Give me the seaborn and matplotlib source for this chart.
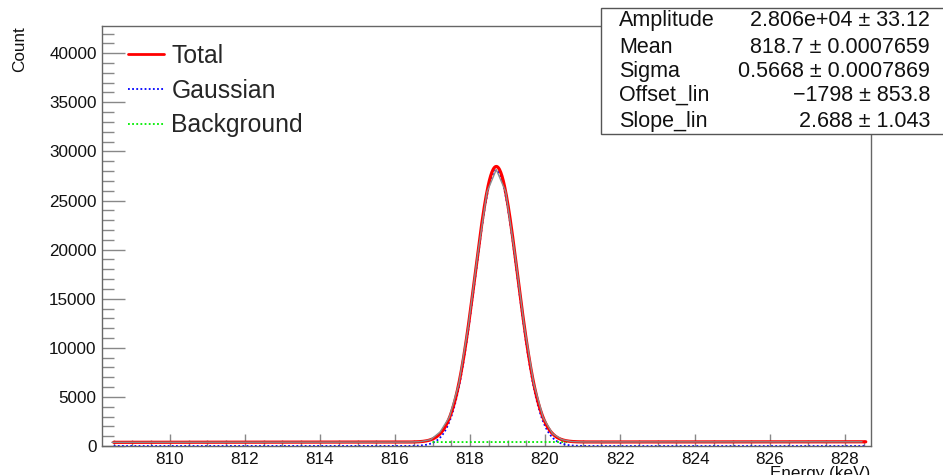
import numpy as np
import pandas as pd
import matplotlib
matplotlib.use("Agg")
import matplotlib.pyplot as plt
import seaborn as sns
from matplotlib.patches import Rectangle
from matplotlib.ticker import MultipleLocator

# fit result, as printed in the stats box
AMPLITUDE = 2.806e4
MEAN = 818.7
SIGMA = 0.5668
OFFSET_LIN = -1798
SLOPE_LIN = 2.688

PAR_NAMES = ["Amplitude", "Mean", "Sigma", "Offset_lin", "Slope_lin"]
PAR_VALUES = ["2.806e+04 \u00b1 33.12", "818.7 \u00b1 0.0007659",
              "0.5668 \u00b1 0.0007869", "\u22121798 \u00b1 853.8",
              "2.688 \u00b1 1.043"]

# histogram, 0.25 keV bins
E_FIRST = 808.45
BIN_WIDTH = 0.25
COUNTS_LEFT = [375, 376, 377, 377, 378, 379, 379, 380,
               381, 381, 382, 383, 383, 384, 385, 385,
               386, 387, 387, 388, 389, 389, 390, 391,
               391, 392, 393, 393, 394, 395, 395, 396]
COUNTS_PEAK = [407, 455, 650, 1420, 2950, 6300, 12100, 19400, 25850, 28150,
               25900, 19450, 12100, 6330, 2880, 1260, 650, 460, 415]
COUNTS_RIGHT = [410, 410, 411, 412, 412, 413, 414, 414,
                415, 416, 416, 417, 418, 418, 419, 420,
                420, 421, 422, 422, 423, 424, 424, 425,
                426, 426, 427, 428, 428, 429]

FIT_RANGE = (808.5, 828.55)
BKG_RANGE = (817.0, 820.6)
X_LIM = (808.18, 828.69)
Y_LIM = (0, 42770)

W, H = 943, 475


def fx(px):
    return px / W


def fy(py):
    return 1 - py / H


def gauss(x):
    return AMPLITUDE * np.exp(-0.5 * ((x - MEAN) / SIGMA) ** 2)


def background(x):
    return OFFSET_LIN + SLOPE_LIN * x


counts = COUNTS_LEFT + COUNTS_PEAK + COUNTS_RIGHT
hist = pd.DataFrame({"energy": E_FIRST + BIN_WIDTH * np.arange(len(counts)),
                     "count": counts})

xf = np.linspace(*FIT_RANGE, 1200)
curves = pd.DataFrame({"energy": xf,
                       "gauss": gauss(xf),
                       "total": gauss(xf) + background(xf)})
xb = np.linspace(*BKG_RANGE, 50)
bkg = pd.DataFrame({"energy": xb, "bkg": background(xb)})

sns.set_theme(style="white")
plt.rcParams["font.family"] = ["Liberation Sans", "DejaVu Sans"]

fig = plt.figure(figsize=(W / 100, H / 100), dpi=100)
ax = fig.add_axes([fx(101.7), fy(446), fx(871) - fx(101.7), fy(26) - fy(446)])

sns.lineplot(data=curves, x="energy", y="gauss", ax=ax, color="#0000ff",
             lw=1.3, linestyle=(0, (1, 1.3)), estimator=None, sort=False, zorder=2)
sns.lineplot(data=bkg, x="energy", y="bkg", ax=ax, color="#00ee00",
             lw=1.3, linestyle=(0, (1, 1.3)), estimator=None, sort=False, zorder=2)
sns.lineplot(data=curves, x="energy", y="total", ax=ax, color="#ff0000",
             lw=2.3, estimator=None, sort=False, zorder=3)
sns.lineplot(data=hist, x="energy", y="count", ax=ax, color="#8c8c8c",
             lw=1.0, estimator=None, sort=False, zorder=4)

ax.set_xlim(*X_LIM)
ax.set_ylim(*Y_LIM)
ax.set_xlabel("")
ax.set_ylabel("")
ax.xaxis.set_major_locator(MultipleLocator(2))
ax.xaxis.set_minor_locator(MultipleLocator(0.5))
ax.yaxis.set_major_locator(MultipleLocator(5000))
ax.yaxis.set_minor_locator(MultipleLocator(1000))
ax.tick_params(axis="both", which="both", direction="in", colors="#888888",
               labelcolor="#111111", labelsize=12.3, width=1,
               top=False, right=False, bottom=True, left=True)
ax.tick_params(axis="x", which="major", length=8.6, pad=4.3)
ax.tick_params(axis="x", which="minor", length=4.3)
ax.tick_params(axis="y", which="major", length=16.5, pad=3.6)
ax.tick_params(axis="y", which="minor", length=8.5)
for sp in ax.spines.values():
    sp.set_visible(True)
    sp.set_color("#666666")
    sp.set_linewidth(1)

handles = [plt.Line2D([], [], color="#ff0000", lw=2.0),
           plt.Line2D([], [], color="#0000ff", lw=1.3, linestyle=(0, (1, 1.3))),
           plt.Line2D([], [], color="#00ee00", lw=1.3, linestyle=(0, (1, 1.3)))]
ax.legend(handles, ["Total", "Gaussian", "Background"], loc="upper left",
          bbox_to_anchor=(fx(128), fy(44)), bbox_transform=fig.transFigure,
          frameon=False, fontsize=17.8, handlelength=1.45, handletextpad=0.3,
          labelspacing=0.43, borderpad=0, borderaxespad=0)

fig.text(fx(20), fy(49.5), "Count", rotation=90, ha="center", va="center",
         fontsize=12.3, color="#111111")
fig.text(fx(870), fy(466), "Energy (keV)", ha="right", va="top",
         fontsize=12.3, color="#111111")

# stats box
box = Rectangle((fx(601), fy(134)), fx(960) - fx(601), fy(8) - fy(134),
                transform=fig.transFigure, facecolor="white",
                edgecolor="#555555", lw=1, zorder=5)
fig.add_artist(box)
baselines = [26, 53, 77, 101, 127]
for name, val, yb in zip(PAR_NAMES, PAR_VALUES, baselines):
    fig.text(fx(619), fy(yb), name, ha="left", va="baseline",
             fontsize=15.5, color="#111111", zorder=6)
    fig.text(fx(930), fy(yb), val, ha="right", va="baseline",
             fontsize=15.5, color="#111111", zorder=6)

fig.savefig("out.png", dpi=100)
